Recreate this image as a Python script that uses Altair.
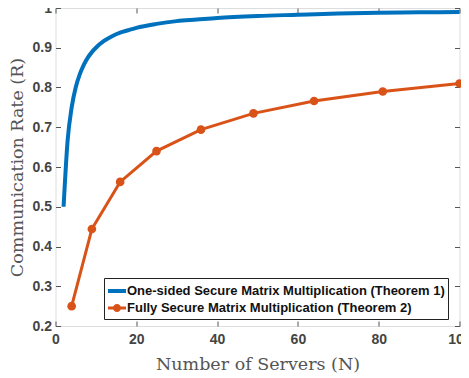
import altair as alt
import pandas as pd

# One-sided secure matrix multiplication (Theorem 1)
n_one = [2, 3, 4, 5, 6, 7, 8, 9, 10, 12, 14, 16, 18, 20, 25, 30, 35, 40, 50, 60, 70, 80, 90, 100]
r_one = [0.5, 0.667, 0.75, 0.8, 0.833, 0.857, 0.875, 0.889, 0.9, 0.917, 0.929, 0.938,
         0.944, 0.95, 0.96, 0.967, 0.971, 0.975, 0.98, 0.983, 0.986, 0.988, 0.989, 0.99]

# Fully secure matrix multiplication (Theorem 2)
n_full = [4, 9, 16, 25, 36, 49, 64, 81, 100]
r_full = [0.25, 0.444, 0.5625, 0.64, 0.694, 0.735, 0.766, 0.79, 0.81]

series = ["One-sided Secure Matrix Multiplication (Theorem 1)",
          "Fully Secure Matrix Multiplication (Theorem 2)"]
colors = ["#0072BD", "#D95319"]

x_ticks = [0, 20, 40, 60, 80, 100]
y_ticks = [0.2, 0.3, 0.4, 0.5, 0.6, 0.7, 0.8, 0.9, 1.0]

df_one = pd.DataFrame({"N": n_one, "R": r_one})
df_full = pd.DataFrame({"N": n_full, "R": r_full})
df_leg = pd.DataFrame({"s": series})

AX = "#555555"
LAB = "#444444"
TFONT = "DejaVu Serif"
xs = alt.Scale(domain=[0, 100], nice=False, zero=False)
ys = alt.Scale(domain=[0.2, 1.0], nice=False, zero=False)

x_axis = alt.Axis(values=x_ticks, tickCount=20, title="Number of Servers (N)", offset=-5, domain=False,
                  tickSize=5, tickColor=AX, labelPadding=6, labelFont="Liberation Sans",
                  labelFontWeight="bold", labelFontSize=14, labelColor=LAB, labelOverlap=False,
                  titleFont=TFONT, titleFontSize=17.5, titleFontWeight="normal",
                  titleColor="#555555", titlePadding=9, grid=False, labelFlush=False)
y_axis = alt.Axis(values=y_ticks, tickCount=20, title="Communication Rate (R)", format=".1~f", offset=-5,
                  domain=False, tickSize=5, tickColor=AX, labelPadding=4,
                  labelFont="Liberation Sans", labelFontWeight="bold", labelFontSize=14,
                  labelColor=LAB, labelOverlap=False, titleFont=TFONT, titleFontSize=17.5,
                  titleFontWeight="normal", titleColor="#555555", titlePadding=6, grid=False,
                  labelFlush=False)

blue = alt.Chart(df_one).mark_line(color=colors[0], strokeWidth=4, interpolate="monotone").encode(
    x=alt.X("N:Q", scale=xs, axis=x_axis),
    y=alt.Y("R:Q", scale=ys, axis=y_axis),
)
orange_line = alt.Chart(df_full).mark_line(color=colors[1], strokeWidth=3).encode(
    x=alt.X("N:Q", scale=xs), y=alt.Y("R:Q", scale=ys))
orange_pts = alt.Chart(df_full).mark_point(color=colors[1], filled=True, size=75, opacity=1).encode(
    x=alt.X("N:Q", scale=xs), y=alt.Y("R:Q", scale=ys))

base = alt.layer(blue, orange_line, orange_pts)

line_path = "M-1,-0.22L1,-0.22L1,0.22L-1,0.22Z"
mark_path = ("M-1,-0.17L1,-0.17L1,0.17L-1,0.17Z "
             "M-0.45,0A0.45,0.45 0 1,1 0.45,0A0.45,0.45 0 1,1 -0.45,0Z")

top_axis = alt.Axis(orient="top", values=x_ticks, tickCount=20, labels=False, title=None, offset=-5,
                    domain=False, tickSize=5, tickColor=AX, grid=False)
right_axis = alt.Axis(orient="right", values=y_ticks, tickCount=20, labels=False, title=None, offset=-5,
                      domain=False, tickSize=5, tickColor=AX, grid=False)


def leg():
    return alt.Legend(
        title=None, orient="none", legendX=48.5, legendY=270, strokeColor="#222222",
        fillColor="white", padding=3, labelFont="Liberation Sans", labelFontWeight="bold",
        labelFontSize=13, labelColor="#111111", symbolSize=324, labelOffset=0,
        rowPadding=0, symbolOpacity=1, labelLimit=500)


legend_layer = alt.Chart(df_leg).transform_calculate(
    xv="50", yv="0.5"
).transform_filter("false").mark_point(filled=True, opacity=1).encode(
    x=alt.X("xv:Q", scale=xs, axis=top_axis),
    y=alt.Y("yv:Q", scale=ys, axis=right_axis),
    color=alt.Color("s:N", scale=alt.Scale(domain=series, range=colors), legend=leg()),
    shape=alt.Shape("s:N", scale=alt.Scale(domain=series, range=[line_path, mark_path]), legend=leg()),
)

chart = alt.layer(base, legend_layer).resolve_scale(x="independent", y="independent").properties(
    width=404, height=318,
    autosize=alt.AutoSizeParams(type="none"),
    padding={"left": 47.5, "top": 0, "right": 1.5, "bottom": 51},
).configure_view(stroke=AX, strokeWidth=1).configure(background="white")

chart.save("out.html", embed_options={"renderer": "svg", "actions": False})
